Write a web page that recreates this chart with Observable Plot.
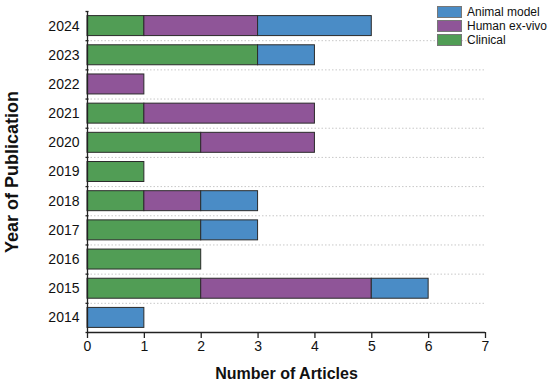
<!DOCTYPE html>
<html>
<head>
<meta charset="utf-8">
<script src="https://cdn.jsdelivr.net/npm/d3@7"></script>
<script src="https://cdn.jsdelivr.net/npm/@observablehq/plot@0.6"></script>
<style>
  html, body { margin: 0; padding: 0; background: #fff; }
  #wrap { position: relative; width: 550px; height: 386px; font-family: "Liberation Sans", Arial, sans-serif; }
  #legend { position: absolute; left: 437px; top: 5px; font-size: 12px; color: #111; }
  .row { display: flex; align-items: center; height: 14px; }
  .sw { width: 25px; height: 12px; border: 1px solid #777; box-sizing: border-box; margin-right: 5px; }
</style>
</head>
<body>
<div id="wrap"><div id="legend"></div></div>
<script>
// Data
const years = ["2014", "2015", "2016", "2017", "2018", "2019", "2020", "2021", "2022", "2023", "2024"];
const clinical    = [0, 2, 2, 2, 1, 1, 2, 1, 0, 3, 1];
const humanExVivo = [0, 3, 0, 0, 1, 0, 2, 3, 1, 0, 2];
const animalModel = [1, 1, 0, 1, 1, 0, 0, 0, 0, 1, 2];
const types = ["Clinical", "Human ex-vivo", "Animal model"];
const legendOrder = ["Animal model", "Human ex-vivo", "Clinical"];
const colors = ["#519d55", "#8f5598", "#4a8cc6"];
const xTicks = [0, 1, 2, 3, 4, 5, 6, 7];

// Build stacked rows (stack order: Clinical, Human ex-vivo, Animal model)
const series = [clinical, humanExVivo, animalModel];
const rows = [];
years.forEach((yr, i) => {
  let acc = 0;
  types.forEach((t, k) => {
    const v = series[k][i];
    if (v > 0) rows.push({year: yr, idx: i, type: t, x1: acc, x2: acc + v});
    acc += v;
  });
});
const labelPos = years.map((y, i) => i + 0.5);
const boundaries = d3.range(0, years.length + 1);
const innerBoundaries = d3.range(1, years.length);

const chart = Plot.plot({
  width: 550,
  height: 386,
  marginLeft: 87,
  marginRight: 65,
  marginTop: 11,
  marginBottom: 54,
  style: {fontFamily: "Liberation Sans, Arial, sans-serif", fontSize: "14px", color: "#111", background: "#fff"},
  x: {domain: [0, 7]},
  y: {domain: [0, years.length]},
  color: {domain: types, range: colors},
  marks: [
    Plot.ruleY(innerBoundaries, {x1: 0, x2: 7, stroke: "#c8c8c8", strokeDasharray: "1.5,2", strokeWidth: 1}),
    Plot.rectX(rows, {x1: "x1", x2: "x2", y1: "idx", y2: d => d.idx + 1, fill: "type", stroke: "#2b2b2b", strokeWidth: 1, insetTop: 4.6, insetBottom: 4.6}),
    Plot.axisX({ticks: xTicks, tickFormat: d => String(d), tickSize: 6, tickPadding: 3, fontSize: 14, stroke: "#222", strokeWidth: 1.3,
      label: "Number of Articles", labelAnchor: "center", labelArrow: "none", labelOffset: 46}),
    Plot.axisY({ticks: labelPos, tickFormat: d => years[Math.floor(d)], tickSize: 0, tickPadding: 8, fontSize: 14,
      label: "Year of Publication", labelAnchor: "center", labelArrow: "none", labelOffset: 82}),
    Plot.axisY({ticks: boundaries, tickFormat: () => "", tickSize: 3, dx: 1.5, stroke: "#222", strokeWidth: 1.3, label: null}),
    Plot.ruleX([0], {stroke: "#222", strokeWidth: 1.3}),
    Plot.ruleY([0], {x1: 0, x2: 7, stroke: "#222", strokeWidth: 1.3})
  ]
});
chart.querySelectorAll('g[aria-label="x-axis label"] text').forEach(t => { t.setAttribute("font-size", "16"); t.setAttribute("font-weight", "bold"); });
chart.querySelectorAll('g[aria-label="y-axis label"] text').forEach(t => { t.setAttribute("font-size", "18"); t.setAttribute("font-weight", "bold"); });
document.getElementById("wrap").appendChild(chart);

// Legend
const legend = document.getElementById("legend");
legendOrder.forEach(t => {
  const row = document.createElement("div");
  row.className = "row";
  const sw = document.createElement("div");
  sw.className = "sw";
  sw.style.background = colors[types.indexOf(t)];
  const lb = document.createElement("span");
  lb.textContent = t;
  row.appendChild(sw); row.appendChild(lb);
  legend.appendChild(row);
});
</script>
</body>
</html>
